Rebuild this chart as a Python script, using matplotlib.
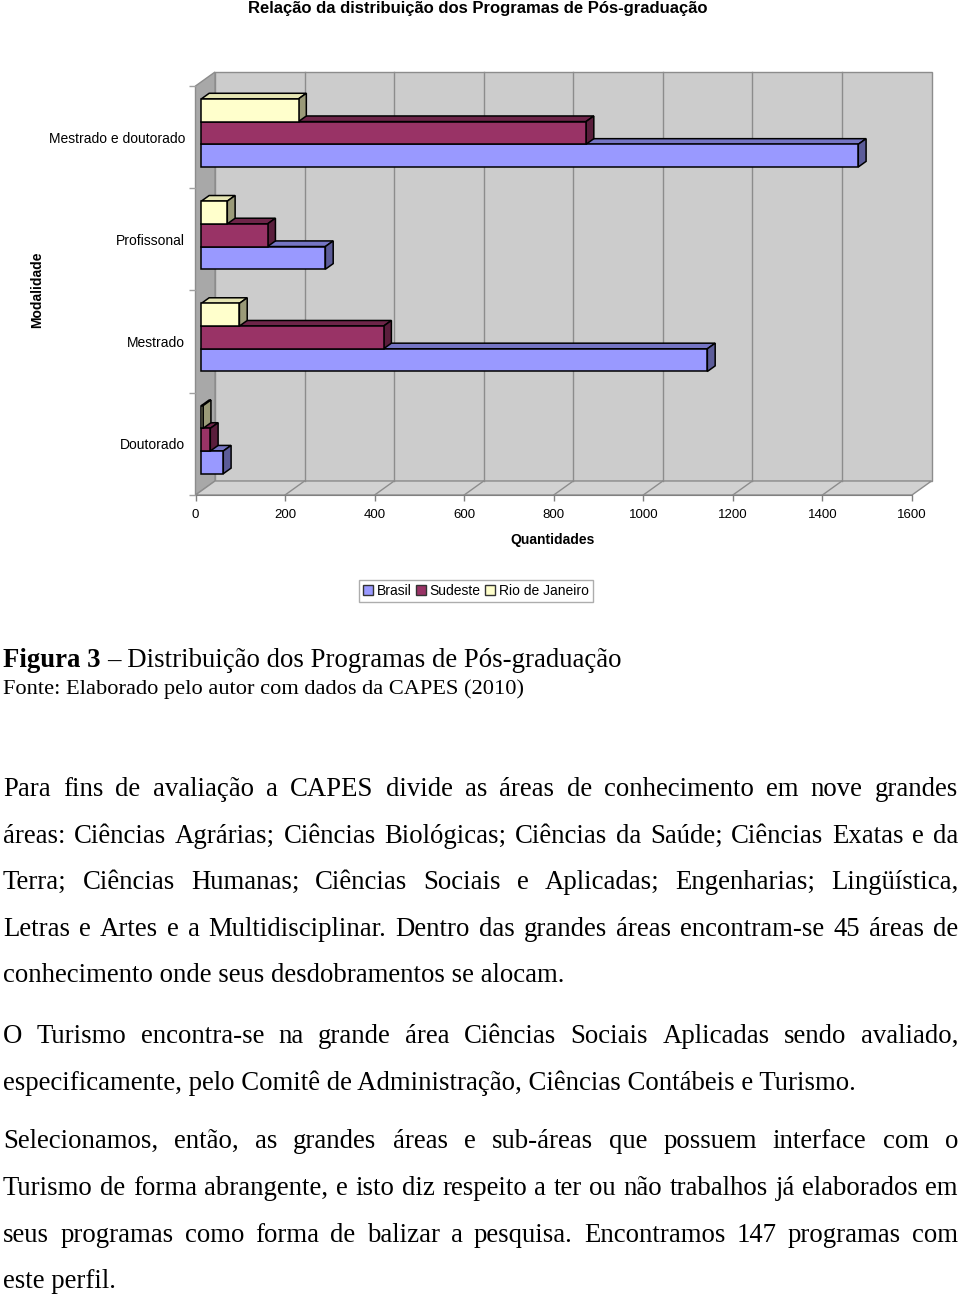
"""Figura 3: distribuição dos programas de pós-graduação (barras 3D estilo Excel) + texto."""

import matplotlib

matplotlib.use("Agg")
import matplotlib.pyplot as plt
from matplotlib.patches import Patch, Polygon, Rectangle

W, H = 960, 1297

categorias = ["Doutorado", "Mestrado", "Profissonal", "Mestrado e doutorado"]
series = ["Brasil", "Sudeste", "Rio de Janeiro"]
brasil = [49, 1130, 277, 1467]
sudeste = [20, 407, 148, 859]
rio = [4, 85, 58, 217]
xticks = [0, 200, 400, 600, 800, 1000, 1200, 1400, 1600]

front_cols = ["#9999ff", "#993366", "#ffffcc"]
top_cols = ["#7575c4", "#6e2549", "#e6e6b4"]
side_cols = ["#5c5c99", "#5a1e3c", "#9a9a78"]

paragrafos = [
    [
        ("Para fins de avaliação a CAPES divide as áreas de conhecimento em nove grandes", True),
        ("áreas: Ciências Agrárias; Ciências Biológicas; Ciências da Saúde; Ciências Exatas e da", True),
        ("Terra; Ciências Humanas; Ciências Sociais e Aplicadas; Engenharias; Lingüística,", True),
        ("Letras e Artes e a Multidisciplinar. Dentro das grandes áreas encontram-se 45 áreas de", True),
        ("conhecimento onde seus desdobramentos se alocam.", False),
    ],
    [
        ("O Turismo encontra-se na grande área Ciências Sociais Aplicadas sendo avaliado,", True),
        ("especificamente, pelo Comitê de Administração, Ciências Contábeis e Turismo.", False),
    ],
    [
        ("Selecionamos, então, as grandes áreas e sub-áreas que possuem interface com o", True),
        ("Turismo de forma abrangente, e isto diz respeito a ter ou não trabalhos já elaborados em", True),
        ("seus programas como forma de balizar a pesquisa. Encontramos 147 programas com", True),
        ("este perfil.", False),
    ],
]
baselines = [[796, 843, 889, 936, 982], [1043, 1090], [1148, 1195, 1242, 1288]]


def fx(x):
    return x / W


def fy(y):
    return 1 - y / H


plt.rcParams["font.family"] = ["Liberation Sans", "DejaVu Sans"]
fig = plt.figure(figsize=(W / 100, H / 100), dpi=100)
fig.patch.set_facecolor("white")

# front plane of the 3D box, in pixels
left, right, top, bottom = 195.5, 912, 86, 495
ax = fig.add_axes([fx(left), fy(bottom), (right - left) / W, (bottom - top) / H])
ax.set_xlim(0, 1600)
ax.set_ylim(-0.5, 3.5)
ax.set_facecolor("none")
for s in ["top", "right", "left"]:
    ax.spines[s].set_visible(False)
ax.spines["bottom"].set_color("#808080")

# depth of the box in data units
px_x = (right - left) / 1600
px_y = (bottom - top) / 4
DX, DY = 19.5 / px_x, 14 / px_y
wall_kw = dict(clip_on=False, zorder=0.5)
ax.add_patch(Rectangle((DX, -0.5 + DY), 1600, 4, facecolor="#cccccc",
                       edgecolor="#8c8c8c", lw=1, **wall_kw))
ax.add_patch(Polygon([(0, -0.5), (0, 3.5), (DX, 3.5 + DY), (DX, -0.5 + DY)],
                     facecolor="#a8a8a8", edgecolor="#8c8c8c", lw=1, **wall_kw))
ax.add_patch(Polygon([(0, -0.5), (1600, -0.5), (1600 + DX, -0.5 + DY), (DX, -0.5 + DY)],
                     facecolor="#d2d2d2", edgecolor="#8c8c8c", lw=1, **wall_kw))
for v in xticks[1:-1]:
    ax.plot([v + DX, v + DX], [-0.5 + DY, 3.5 + DY], color="#8c8c8c", lw=1, zorder=0.6,
            clip_on=False)
    ax.plot([v, v + DX], [-0.5, -0.5 + DY], color="#8c8c8c", lw=1, zorder=0.6, clip_on=False)

# bars: front face offset and bar depth
ox, oy = 0.3 * DX, 0.3 * DY
bx, by = 0.4 * DX, 0.4 * DY
h = 22.7 / px_y
for k, vals in enumerate([brasil, sudeste, rio]):
    for i, v in enumerate(vals):
        y0 = i + (k - 1) * h - h / 2 + oy
        y1 = y0 + h
        x0, x1 = ox, ox + v
        kw = dict(edgecolor="black", lw=1.1, clip_on=False, zorder=2 + k * 0.1)
        ax.add_patch(Polygon([(x0, y1), (x1, y1), (x1 + bx, y1 + by), (x0 + bx, y1 + by)],
                             facecolor=top_cols[k], **kw))
        ax.add_patch(Polygon([(x1, y0), (x1, y1), (x1 + bx, y1 + by), (x1 + bx, y0 + by)],
                             facecolor=side_cols[k], **kw))
        ax.barh(y0 + h / 2, v, left=x0, height=h, color=front_cols[k], edgecolor="black",
                lw=1.1, clip_on=False, zorder=2 + k * 0.1 + 0.01)

ax.set_xticks(xticks)
ax.tick_params(axis="x", length=4, width=1, color="#808080", labelsize=9.5, pad=6)
ax.set_yticks(range(len(categorias)))
ax.set_yticklabels(categorias)
ax.set_yticks([i - 0.5 for i in range(len(categorias) + 1)], minor=True)
ax.tick_params(axis="y", which="major", length=0, labelsize=10, pad=7.5)
ax.tick_params(axis="y", which="minor", length=5, width=1, color="#a0a0a0")
ax.set_xlabel("Quantidades", fontsize=10, fontweight="bold", va="center")
ax.xaxis.set_label_coords((553 - left) / (right - left), (bottom - 540) / (bottom - top))
ax.set_ylabel("Modalidade", fontsize=10, fontweight="bold", va="center")
ax.yaxis.set_label_coords((37 - left) / (right - left), (bottom - 290) / (bottom - top))

fig.text(fx(478), fy(9), "Relação da distribuição dos Programas de Pós-graduação",
         ha="center", va="center", fontsize=12, fontweight="bold")

handles = [Patch(facecolor=c, edgecolor="#333333", lw=1) for c in front_cols]
fig.legend(handles, series, loc="center", bbox_to_anchor=(fx(476), fy(591)), ncol=3,
           fontsize=10, frameon=True, fancybox=False, edgecolor="#999999",
           handlelength=0.7, handleheight=0.7, handletextpad=0.25, columnspacing=0.35,
           borderpad=0.3, borderaxespad=0)

# caption and body text (Times-like)
serif = ["Liberation Serif", "DejaVu Serif"]
renderer = fig.canvas.get_renderer()
fig_t = fig.text(fx(3), fy(667), "Figura 3", fontsize=19.3, fontweight="bold", family=serif,
                 va="baseline")
w_fig = fig_t.get_window_extent(renderer).width
fig.text(fx(3 + w_fig + 7), fy(667), "– Distribuição dos Programas de Pós-graduação",
         fontsize=19.3, family=serif, va="baseline")
fig.text(fx(3), fy(694), "Fonte: Elaborado pelo autor com dados da CAPES (2010)",
         fontsize=16.1, family=serif, va="baseline")

x_left, x_right = 3, 958
for par, ys in zip(paragrafos, baselines):
    for (line, just), yb in zip(par, ys):
        if not just:
            fig.text(fx(x_left), fy(yb), line, fontsize=19.3, family=serif, va="baseline")
            continue
        words = line.split(" ")
        texts = [fig.text(0, fy(yb), w, fontsize=19.3, family=serif, va="baseline")
                 for w in words]
        widths = [t.get_window_extent(renderer).width for t in texts]
        gap = (x_right - x_left - sum(widths)) / (len(words) - 1)
        x = x_left
        for t, wd in zip(texts, widths):
            t.set_x(fx(x))
            x += wd + gap

fig.savefig("out.png", dpi=100, facecolor="white")
